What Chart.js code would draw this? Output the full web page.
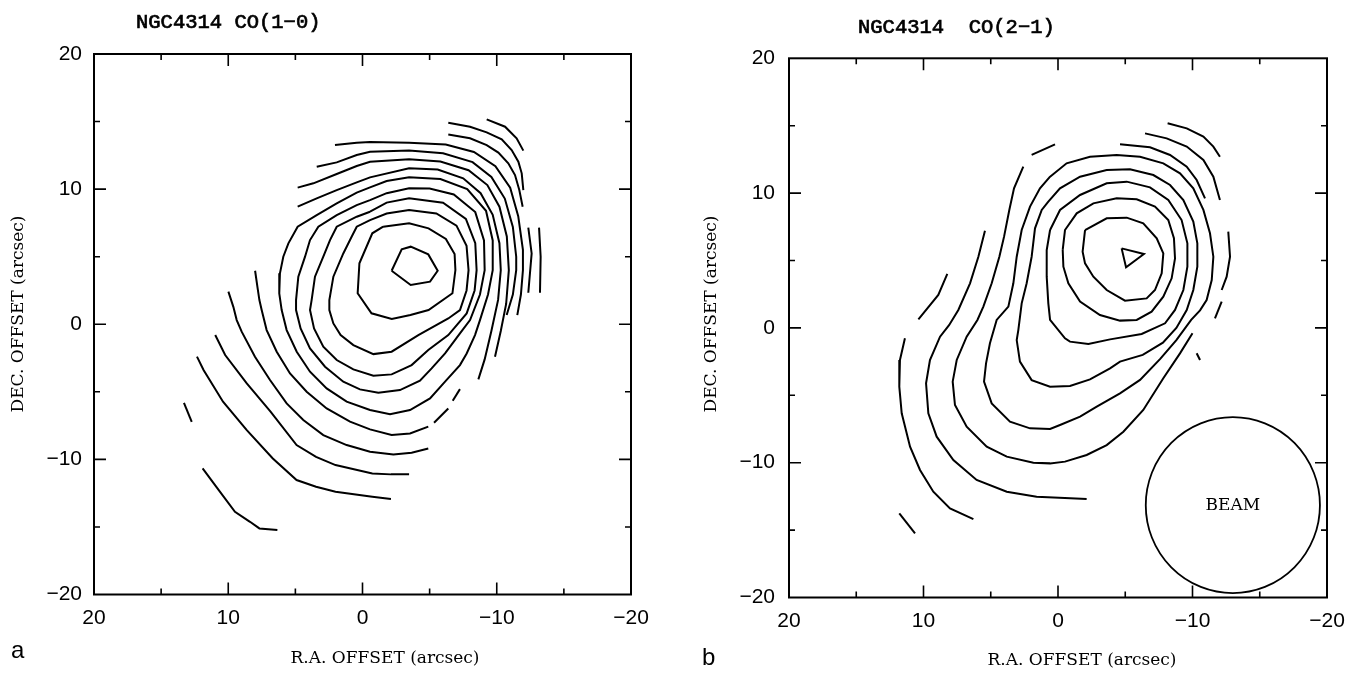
<!DOCTYPE html>
<html><head><meta charset="utf-8">
<script src="https://cdn.jsdelivr.net/npm/chart.js@4.4.1/dist/chart.umd.min.js"></script>
<style>
html,body{margin:0;padding:0;background:#fff;width:1361px;height:675px;overflow:hidden}
canvas{position:absolute;top:0}
#ca{left:0}#cb{left:680px}
</style></head>
<body>
<canvas id="ca" width="680" height="675"></canvas>
<canvas id="cb" width="681" height="675"></canvas>
<script>
// ---------- axis ticks ----------
const tickLabels = [-20, -10, 0, 10, 20];
const tickMarks = [-15, -10, -5, 0, 5, 10, 15];

// ---------- panel a : CO(1-0) contours [RA offset, Dec offset] ----------
const a_c1 = [[-2.17,3.96],[-2.92,5.54],[-3.59,5.74],[-4.90,5.17],[-5.60,3.96],[-5.03,3.15],[-3.59,2.90],[-2.17,3.96]];
const a_c2 = [[-1.54,7.22],[-3.47,7.47],[-4.92,7.10],[-6.21,6.31],[-6.86,5.20],[-6.92,4.01],[-6.70,2.29],[-4.92,1.05],[-3.57,0.68],[-2.18,0.39],[-0.67,0.81],[0.36,2.29],[0.23,4.51],[-0.73,6.73],[-1.54,7.22]];
const a_c3 = [[-0.56,7.71],[0.43,7.22],[0.81,6.48],[1.43,5.24],[2.17,3.52],[2.47,1.79],[2.47,1.05],[2.17,0.06],[1.63,-0.80],[0.68,-1.54],[-0.81,-2.21],[-2.17,-2.03],[-4.16,-0.80],[-6.39,0.43],[-7.26,1.05],[-7.75,2.5],[-7.9,4.0],[-7.75,5.8],[-7.0,7.3],[-5.5,8.2],[-3.47,8.46],[-1.8,8.2],[-0.56,7.71]];
const a_c4 = [[-0.56,8.33],[0.43,7.96],[1.92,7.22],[2.42,6.23],[2.92,5.00],[3.54,3.52],[3.79,1.79],[3.91,1.05],[3.61,-0.31],[2.92,-1.66],[1.92,-2.65],[0.68,-3.34],[-0.81,-3.81],[-2.17,-3.71],[-3.66,-3.02],[-4.90,-1.91],[-6.39,-0.80],[-7.76,0.80],[-8.35,2.5],[-8.5,4.0],[-8.4,6.0],[-7.7,7.8],[-6.0,9.0],[-3.47,9.32],[-1.8,9.0],[-0.56,8.33]];
const a_c5 = [[-0.56,9.19],[0.43,8.82],[1.92,8.08],[3.29,7.22],[3.91,6.23],[4.28,5.00],[4.78,3.52],[4.95,1.79],[4.95,1.05],[4.61,-0.31],[3.91,-1.79],[2.79,-3.14],[1.43,-4.25],[0.19,-4.82],[-1.18,-5.07],[-2.79,-4.87],[-4.28,-4.18],[-5.15,-3.27],[-6.15,-2.16],[-7.26,-0.68],[-8.01,0.31],[-8.75,2.2],[-9.1,4.0],[-9.05,6.2],[-8.4,8.3],[-6.8,9.6],[-5.0,10.05],[-3.47,10.06],[-1.8,9.7],[-0.56,9.19]];
const a_c6 = [[-0.56,10.13],[0.43,9.74],[1.92,8.95],[3.41,8.08],[4.83,7.22],[5.52,5.99],[5.90,5.00],[6.15,3.77],[6.20,2.28],[6.02,1.05],[5.65,-0.43],[4.90,-2.03],[3.91,-3.51],[2.67,-4.75],[1.18,-5.73],[-0.56,-6.35],[-2.05,-6.65],[-3.54,-6.35],[-5.03,-5.49],[-6.15,-4.25],[-7.26,-3.02],[-7.76,-2.16],[-8.38,-0.80],[-8.75,0.31],[-9.35,2.2],[-9.7,4.0],[-9.7,6.2],[-9.2,8.4],[-7.8,10.0],[-5.8,10.75],[-3.47,10.87],[-1.8,10.6],[-0.56,10.13]];
const a_c7low = [[8.00,3.96],[7.83,2.78],[7.68,1.79],[7.51,1.05],[7.14,-0.43],[6.39,-2.03],[5.40,-3.64],[4.16,-4.99],[2.67,-6.23],[0.93,-7.21],[-0.56,-7.78],[-2.17,-8.20],[-3.54,-8.08],[-4.90,-7.58]];
const a_c7dash1 = [[-5.33,-7.29],[-6.39,-6.23]];
const a_c7dash2 = [[-6.72,-5.66],[-7.26,-4.80]];
const a_c7up = [[4.83,8.70],[3.41,9.32],[1.92,9.93],[0.43,10.50],[-0.56,10.87],[-3.47,11.54],[-5.6,11.45],[-7.5,10.8],[-8.8,9.7],[-9.7,8.1],[-10.2,6.0],[-10.3,4.0],[-10.1,1.8],[-9.6,-0.5],[-9.1,-2.6],[-8.63,-4.08]];
const a_c8low = [[9.99,2.41],[9.62,1.29],[9.37,0.31],[9.00,-0.55],[8.01,-2.40],[6.89,-4.13],[5.65,-5.86],[4.41,-7.09],[2.92,-8.20],[1.18,-8.94],[-0.56,-9.44],[-2.30,-9.63],[-3.66,-9.51],[-4.90,-9.19]];
const a_c8up = [[4.83,10.11],[3.66,10.43],[1.92,11.12],[0.43,11.71],[-0.56,12.03],[-3.47,12.21],[-5.8,12.05],[-7.9,11.4],[-9.3,10.3],[-10.2,8.7],[-10.75,6.5],[-10.9,4.0],[-10.7,1.5],[-10.3,-0.5],[-9.87,-2.40]];
const a_c9low = [[10.97,-0.80],[10.23,-2.28],[8.62,-4.38],[6.85,-6.47],[4.91,-8.94],[3.46,-9.81],[2.01,-10.42],[-0.73,-11.04],[-2.12,-11.11],[-3.47,-11.11]];
const a_c9up = [[3.41,11.66],[1.92,11.98],[0.43,12.52],[-0.56,12.77],[-3.47,12.85],[-6.0,12.65],[-8.2,12.0],[-9.6,10.9],[-10.6,9.3],[-11.2,7.2],[-11.45,5.0],[-11.45,4.0],[-11.2,2.2],[-10.74,0.68]];
const a_c10low = [[12.33,-2.40],[11.84,-3.39],[10.39,-5.73],[8.62,-7.83],[6.68,-9.93],[4.91,-11.53],[3.46,-12.03],[2.01,-12.40],[-0.73,-12.77],[-2.12,-12.94]];
const a_c10up = [[2.05,13.26],[0.43,13.44],[-0.56,13.49],[-3.47,13.44],[-6.2,13.3],[-8.3,12.75],[-9.9,11.7],[-11.0,10.1],[-11.6,8.0],[-11.95,5.5],[-11.95,4.0],[-11.8,2.2],[-11.53,0.68]];
const a_c11low = [[11.91,-10.67],[10.61,-12.40],[9.50,-13.88],[8.38,-14.62],[7.68,-15.11],[6.34,-15.23]];
const a_c11up = [[-6.39,14.05],[-8.01,13.76],[-9.25,13.26],[-10.12,12.70],[-10.86,11.91],[-11.36,11.04],[-11.68,9.93],[-11.93,8.70]];
const a_c11seg = [[-12.35,7.15],[-12.60,5.24],[-12.35,2.33]];
const a_c12up = [[-6.39,14.92],[-8.01,14.62],[-9.25,14.20],[-10.37,13.68],[-11.11,12.89],[-11.61,12.03],[-11.86,11.17],[-11.98,9.93]];
const a_c12seg = [[-13.15,7.15],[-13.27,5.0],[-13.22,2.33]];
const a_c12dash = [[13.30,-5.81],[12.72,-7.22]];
const a_c13up = [[-9.25,15.16],[-10.62,14.62],[-11.48,13.76],[-11.98,12.85]];

// ---------- panel b : CO(2-1) contours ----------
const b_c1 = [[-4.73,5.90],[-6.39,5.48],[-5.06,4.49],[-4.73,5.90]];
const b_c2 = [[-2.01,7.26],[-3.62,8.13],[-5.11,8.18],[-6.34,7.76],[-7.34,6.65],[-7.83,5.53],[-7.71,4.05],[-7.21,2.81],[-6.59,2.19],[-4.98,2.02],[-3.62,2.81],[-2.63,3.80],[-2.01,4.79],[-1.83,5.66],[-2.01,7.26]];
const b_c3 = [[-0.35,5.78],[-0.52,7.26],[-1.39,8.50],[-2.63,9.24],[-4.36,9.61],[-5.85,9.54],[-7.21,9.0],[-8.20,8.0],[-8.62,6.65],[-8.70,5.16],[-8.45,3.68],[-7.83,2.32],[-6.96,1.20],[-5.85,0.59],[-4.61,0.54],[-3.12,0.96],[-1.64,1.95],[-0.77,3.31],[-0.40,4.54],[-0.35,5.78]];
const b_c4 = [[0.59,7.26],[0.84,5.78],[0.84,3.80],[0.72,1.82],[0.59,0.59],[-0.52,-0.77],[-0.89,-1.02],[-2.26,-1.19],[-3.87,-0.85],[-6.22,-0.45],[-7.96,0.34],[-8.70,1.33],[-9.32,2.81],[-9.62,4.54],[-9.62,6.27],[-9.19,8.0],[-8.20,9.49],[-6.84,10.43],[-5.11,10.85],[-3.62,10.73],[-1.64,9.86],[-0.15,8.75],[0.59,7.26]];
const b_c5 = [[0.72,9.37],[1.21,8.75],[1.71,7.39],[1.96,5.28],[2.33,3.31],[2.70,1.82],[2.95,-0.16],[3.07,-0.90],[2.83,-2.50],[1.96,-3.87],[0.59,-4.36],[-0.89,-4.31],[-2.38,-3.82],[-3.87,-3.00],[-4.61,-2.50],[-6.3,-2.0],[-7.8,-1.1],[-8.8,0.0],[-9.57,1.33],[-10.06,2.81],[-10.36,4.54],[-10.36,6.27],[-10.06,7.88],[-9.32,9.49],[-8.33,10.60],[-7.09,11.34],[-5.35,11.76],[-3.62,11.71],[-1.64,11.22],[-0.15,10.35],[0.72,9.37]];
const b_c6 = [[0.59,11.22],[1.34,10.35],[2.08,9.0],[2.70,7.26],[3.07,5.28],[3.32,3.31],[3.69,1.58],[4.56,0.59],[5.06,-1.14],[5.35,-2.63],[5.50,-3.99],[4.93,-5.60],[3.57,-6.96],[2.08,-7.45],[0.59,-7.50],[-0.15,-7.20],[-1.64,-6.58],[-2.88,-5.84],[-4.61,-4.85],[-6.10,-3.86],[-7.6,-2.3],[-8.8,-0.9],[-9.9,0.6],[-10.56,1.3],[-11.05,2.07],[-11.43,3.55],[-11.55,5.28],[-11.30,7.02],[-10.81,8.75],[-10.06,10.35],[-9.07,11.47],[-7.83,12.21],[-6.10,12.70],[-4.36,12.83],[-2.38,12.70],[-0.64,12.21],[0.59,11.22]];
const b_c7low = [[2.58,11.96],[3.27,10.35],[3.62,8.75],[4.01,6.77],[4.36,5.28],[4.93,3.31],[5.55,1.58],[5.99,0.59],[6.79,-0.65],[7.53,-2.38],[7.83,-3.99],[7.66,-5.72],[6.79,-7.33],[5.30,-8.81],[3.81,-9.55],[1.83,-10.0],[0.59,-10.05],[-0.52,-9.92],[-2.13,-9.43],[-3.62,-8.69],[-4.86,-7.70],[-6.34,-6.09],[-7.83,-3.74],[-9.07,-1.89],[-10.0,-0.4]];
const b_c7up = [[-4.61,13.62],[-6.84,13.40],[-8.33,12.83],[-9.57,11.96],[-10.31,10.97],[-10.93,9.61]];
const b_c8low = [[5.43,7.21],[5.92,5.28],[6.54,3.31],[7.41,1.33],[8.1,0.2],[8.77,-0.65],[9.52,-2.38],[9.81,-4.11],[9.64,-6.34],[9.02,-8.07],[7.78,-9.80],[6.05,-11.28],[3.81,-12.15],[1.59,-12.52],[-0.5,-12.62],[-2.13,-12.69]];
const b_c8dash = [[1.96,12.83],[0.22,13.62]];
const b_c8up = [[-6.47,14.43],[-8.08,14.06],[-9.57,13.45],[-10.81,12.46],[-11.55,11.22],[-12.04,9.49]];
const b_c8seg = [[-12.66,7.14],[-12.79,5.28],[-12.54,3.80],[-12.17,2.81]];
const b_c8dash2 = [[-12.17,1.94],[-11.67,0.71]];
const b_c8dash3 = [[-10.31,-1.88],[-10.56,-2.38]];
const b_c9up = [[-8.15,15.18],[-9.57,14.80],[-10.81,14.19],[-11.55,13.45],[-12.04,12.70]];
const b_c9dash = [[8.23,4.00],[8.90,2.44],[10.38,0.64]];
const b_c9low = [[11.38,-0.77],[11.75,-2.38],[11.80,-4.36],[11.62,-6.34],[11.00,-8.81],[10.26,-10.54],[9.27,-12.15],[8.03,-13.39],[6.29,-14.18]];
const b_c10dash = [[11.80,-13.76],[10.63,-15.24]];

// beam (centre RA, Dec; full widths in arcsec)
const beamCenter = [-13.0, -13.15];
const beamSize = [12.95, 13.05];

const panelA = [a_c1,a_c2,a_c3,a_c4,a_c5,a_c6,a_c7low,a_c7dash1,a_c7dash2,a_c7up,a_c8low,a_c8up,a_c9low,a_c9up,a_c10low,a_c10up,a_c11low,a_c11up,a_c11seg,a_c12up,a_c12seg,a_c12dash,a_c13up];
const panelB = [b_c1,b_c2,b_c3,b_c4,b_c5,b_c6,b_c7low,b_c7up,b_c8low,b_c8dash,b_c8up,b_c8seg,b_c8dash2,b_c8dash3,b_c9up,b_c9dash,b_c9low,b_c10dash];

const fmt = v => v < 0 ? '\u2212' + (-v) : String(v);

const framePlugin = {
  id: 'frame',
  afterDatasetsDraw(chart, args, o) {
    const {ctx, chartArea: a, scales: {x, y}} = chart;
    ctx.save();
    ctx.strokeStyle = '#000';
    ctx.lineWidth = 2;
    ctx.strokeRect(a.left, a.top, a.right - a.left, a.bottom - a.top);
    ctx.lineWidth = 1.6;
    ctx.beginPath();
    for (const v of tickMarks) {
      const L = v % 10 === 0 ? 12 : 6;
      const px = x.getPixelForValue(v), py = y.getPixelForValue(v);
      ctx.moveTo(px, a.bottom); ctx.lineTo(px, a.bottom - L);
      ctx.moveTo(px, a.top); ctx.lineTo(px, a.top + L);
      ctx.moveTo(a.left, py); ctx.lineTo(a.left + L, py);
      ctx.moveTo(a.right, py); ctx.lineTo(a.right - L, py);
    }
    ctx.stroke();
    if (o.beam) {
      const cx = x.getPixelForValue(beamCenter[0]), cy = y.getPixelForValue(beamCenter[1]);
      const rx = Math.abs(x.getPixelForValue(beamCenter[0] + beamSize[0] / 2) - cx);
      const ry = Math.abs(y.getPixelForValue(beamCenter[1] + beamSize[1] / 2) - cy);
      ctx.lineWidth = 1.8;
      ctx.beginPath(); ctx.ellipse(cx, cy, rx, ry, 0, 0, Math.PI * 2); ctx.stroke();
      ctx.fillStyle = '#000';
      ctx.font = '17px "DejaVu Serif"';
      ctx.textAlign = 'center'; ctx.textBaseline = 'middle';
      ctx.fillText('BEAM', cx, cy);
    }
    ctx.fillStyle = '#000';
    ctx.font = '20.5px "Liberation Mono"';
    ctx.textAlign = 'left'; ctx.textBaseline = 'alphabetic';
    ctx.lineWidth = 0.7;
    ctx.fillText(o.title, o.titleX, o.titleY);
    ctx.strokeText(o.title, o.titleX, o.titleY);
    ctx.font = '17px "DejaVu Serif"';
    ctx.textAlign = 'center'; ctx.textBaseline = 'middle';
    ctx.fillText('R.A. OFFSET (arcsec)', o.xlabX, o.xlabY);
    ctx.save();
    ctx.translate(o.ylabX, o.ylabY); ctx.rotate(-Math.PI / 2);
    ctx.fillText('DEC. OFFSET (arcsec)', 0, 0);
    ctx.restore();
    ctx.font = '24px "Liberation Sans"';
    ctx.textAlign = 'left'; ctx.textBaseline = 'alphabetic';
    ctx.fillText(o.letter, o.letterX, o.letterY);
    ctx.restore();
  }
};

function makeChart(id, lines, g) {
  const datasets = lines.map(pts => ({
    data: pts.map(p => ({x: p[0], y: p[1]})),
    showLine: true, pointRadius: 0, borderColor: '#000', borderWidth: 2,
    fill: false, tension: 0
  }));
  const tickFont = {family: 'Liberation Sans', size: 21};
  return new Chart(document.getElementById(id), {
    type: 'scatter',
    data: {datasets},
    plugins: [framePlugin],
    options: {
      responsive: false, animation: false, devicePixelRatio: 1, events: [],
      layout: {padding: {left: 0, right: g.padR, top: g.padT, bottom: 0}},
      plugins: {legend: {display: false}, tooltip: {enabled: false}, frame: g.text},
      scales: {
        x: {
          type: 'linear', min: -20, max: 20, reverse: true,
          grid: {display: false, drawTicks: false}, border: {display: false},
          afterBuildTicks: s => { s.ticks = tickLabels.map(v => ({value: v})); },
          afterFit: s => { s.height = g.xH; },
          ticks: {font: tickFont, color: '#000', padding: 11, maxRotation: 0, autoSkip: false, callback: fmt}
        },
        y: {
          type: 'linear', min: -20, max: 20,
          grid: {display: false, drawTicks: false}, border: {display: false},
          afterBuildTicks: s => { s.ticks = tickLabels.map(v => ({value: v})); },
          afterFit: s => { s.width = g.yW; },
          ticks: {font: tickFont, color: '#000', padding: g.yPad, autoSkip: false, callback: fmt}
        }
      }
    }
  });
}

makeChart('ca', panelA, {
  padR: 49, padT: 54, xH: 80.5, yW: 94, yPad: 12,
  text: {title: 'NGC4314 CO(1\u22120)', titleX: 136, titleY: 27.5,
         xlabX: 385, xlabY: 659, ylabX: 18.5, ylabY: 314,
         letter: 'a', letterX: 11, letterY: 658, beam: false}
});
makeChart('cb', panelB, {
  padR: 34, padT: 58.3, xH: 77.5, yW: 109, yPad: 14,
  text: {title: 'NGC4314  CO(2\u22121)', titleX: 178, titleY: 32.5,
         xlabX: 402, xlabY: 661, ylabX: 32, ylabY: 314,
         letter: 'b', letterX: 22, letterY: 665, beam: true}
});
</script>
</body></html>
